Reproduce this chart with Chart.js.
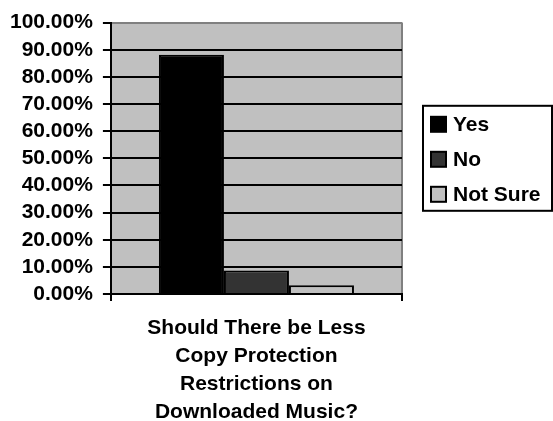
<!DOCTYPE html>
<html>
<head>
<meta charset="utf-8">
<script src="https://cdn.jsdelivr.net/npm/chart.js@4.4.1/dist/chart.umd.min.js"></script>
<style>
  body { margin: 0; background: #fff; }
  #wrap { width: 553px; height: 421px; }
</style>
</head>
<body>
<div id="wrap"><canvas id="chart" width="553" height="421"></canvas></div>
<script>
// Chart data
const categories = [['Should There be Less', 'Copy Protection', 'Restrictions on', 'Downloaded Music?']];
const seriesNames = ['Yes', 'No', 'Not Sure'];
const yesValues = [88.2];
const noValues = [8.7];
const notSureValues = [3.2];
const seriesColors = ['#000000', '#333333', '#c0c0c0'];

const FONT = "'Liberation Sans', Arial, sans-serif";
Chart.defaults.font.family = FONT;
Chart.defaults.font.weight = 'bold';
Chart.defaults.color = '#000';

// Gray plot background
const plotBackground = {
  id: 'plotBackground',
  beforeDraw(chart) {
    const { ctx, chartArea: a } = chart;
    ctx.save();
    ctx.fillStyle = '#c0c0c0';
    ctx.fillRect(a.left, a.top, a.right - a.left, a.bottom - a.top);
    ctx.restore();
  }
};

// Boxed legend to the right of the plot
const boxedLegend = {
  id: 'boxedLegend',
  afterDraw(chart) {
    const { ctx, chartArea: a } = chart;
    const left = a.right + 21;
    const width = 129;
    const rowH = 35;
    const n = chart.data.datasets.length;
    const height = n * rowH;
    const top = (a.top + a.bottom) / 2 - height / 2;
    ctx.save();
    ctx.lineWidth = 2;
    ctx.strokeStyle = '#000';
    ctx.strokeRect(left, top, width, height);
    ctx.font = 'bold 21px ' + FONT;
    ctx.textBaseline = 'middle';
    ctx.textAlign = 'left';
    chart.data.datasets.forEach((ds, i) => {
      const cy = top + 18 + i * rowH;
      ctx.fillStyle = ds.backgroundColor;
      ctx.fillRect(left + 8, cy - 7, 15, 15);
      ctx.strokeRect(left + 8, cy - 7, 15, 15);
      ctx.fillStyle = '#000';
      ctx.fillText(ds.label, left + 30, cy + 1);
    });
    ctx.restore();
  }
};

const dataSets = [yesValues, noValues, notSureValues].map((values, i) => ({
  label: seriesNames[i],
  data: values,
  backgroundColor: seriesColors[i],
  borderColor: '#000',
  borderWidth: 2,
  categoryPercentage: 0.67,
  barPercentage: 1.0
}));

new Chart(document.getElementById('chart'), {
  type: 'bar',
  data: { labels: categories, datasets: dataSets },
  options: {
    responsive: false,
    animation: false,
    layout: { padding: { left: 0, top: 20, right: 151, bottom: -18 } },
    plugins: {
      legend: { display: false },
      tooltip: { enabled: false }
    },
    scales: {
      x: {
        offset: true,
        grid: {
          offset: true,
          drawOnChartArea: true,
          color: (c) => c.index === 0 ? '#000' : '#808080',
          tickColor: '#000',
          lineWidth: 2,
          tickLength: 7
        },
        border: { color: '#000', width: 2 },
        ticks: {
          font: { size: 21, weight: 'bold', lineHeight: 28 / 21 },
          padding: 13,
          maxRotation: 0,
          autoSkip: false
        }
      },
      y: {
        min: 0,
        max: 100,
        grid: {
          color: (c) => c.tick && c.tick.value === 100 ? '#808080' : '#000',
          tickColor: '#000',
          lineWidth: 2,
          tickLength: 8
        },
        border: { color: '#000', width: 2 },
        ticks: {
          stepSize: 10,
          autoSkip: false,
          padding: 10,
          font: { size: 21, weight: 'bold' },
          callback: (v) => v.toFixed(2) + '%'
        }
      }
    }
  },
  plugins: [plotBackground, boxedLegend]
});
</script>
</body>
</html>
